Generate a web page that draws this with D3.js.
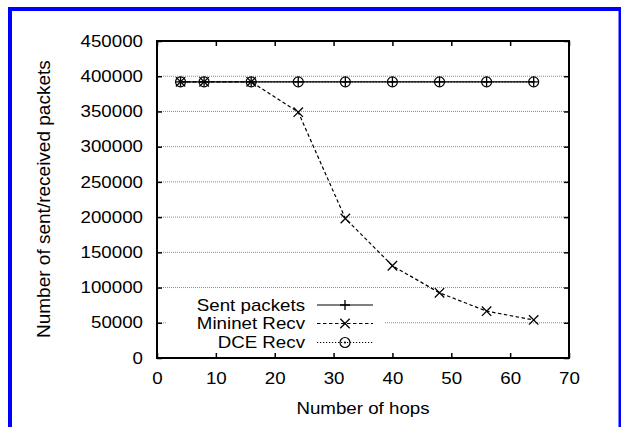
<!DOCTYPE html>
<html><head><meta charset="utf-8">
<script src="https://cdn.jsdelivr.net/npm/d3@7"></script>
<style>
body{margin:0;background:#fff}
svg{display:block}
text{font-family:"Liberation Sans",Arial,Helvetica,sans-serif;fill:#000}
</style>
</head><body>
<svg id="c" width="621" height="427"></svg>
<script>
// ---- data ----
const hops = [4, 8, 16, 24, 32, 40, 48, 56, 64];
const sentPackets = [392000, 392000, 392000, 392000, 392000, 392000, 392000, 392000, 392000];
const mininetRecv = [392000, 392000, 392000, 349000, 198000, 131000, 92500, 66500, 54000];
const dceRecv = [392000, 392000, 392000, 392000, 392000, 392000, 392000, 392000, 392000];
const seriesNames = ["Sent packets", "Mininet Recv", "DCE Recv"];
const xTicks = [0, 10, 20, 30, 40, 50, 60, 70];
const yTicks = [0, 50000, 100000, 150000, 200000, 250000, 300000, 350000, 400000, 450000];
const xTitle = "Number of hops";
const yTitle = "Number of sent/received packets";

// ---- layout ----
const L = 157, R = 569, T = 41, B = 358;
const SX = 1.17;     // horizontal stretch of text
const FS = 16;
const svg = d3.select("#c");

svg.append("rect").attr("x", 10).attr("y", 9).attr("width", 610.5).attr("height", 450)
  .attr("fill", "none").attr("stroke", "#0000ff").attr("stroke-width", 4);

const x = d3.scaleLinear().domain([0, 70]).range([L, R]);
const y = d3.scaleLinear().domain([0, 450000]).range([B, T]);

// grid
svg.append("g").selectAll("line").data(yTicks.filter(v => v > 0 && v < 450000)).join("line")
  .attr("x1", L).attr("x2", R).attr("y1", d => y(d)).attr("y2", d => y(d))
  .attr("stroke", "#8a8a8a").attr("stroke-width", 1).attr("stroke-dasharray", "1,1");

// axes
function styleAxis(g) {
  g.select(".domain").remove();
  g.selectAll(".tick line").attr("stroke", "#000").attr("stroke-width", 1.5);
  g.selectAll("text").attr("font-size", FS).attr("font-family", null);
}
const gx = svg.append("g").attr("transform", `translate(0,${B})`)
  .call(d3.axisBottom(x).tickValues(xTicks).tickSize(-5).tickPadding(15).tickFormat(d3.format("d")));
styleAxis(gx);
gx.selectAll("text").attr("transform", `scale(${SX},1)`);

const gy = svg.append("g").attr("transform", `translate(${L},0)`)
  .call(d3.axisLeft(y).tickValues(yTicks).tickSize(-5).tickPadding(14).tickFormat(d3.format("d")));
styleAxis(gy);
gy.selectAll("text").attr("x", -14 / SX).attr("transform", `scale(${SX},1)`);

const gt = svg.append("g").attr("transform", `translate(0,${T})`)
  .call(d3.axisTop(x).tickValues(xTicks).tickSize(-5).tickFormat(""));
styleAxis(gt);
const gr = svg.append("g").attr("transform", `translate(${R},0)`)
  .call(d3.axisRight(y).tickValues(yTicks).tickSize(-5).tickFormat(""));
styleAxis(gr);

// titles
svg.append("text").attr("transform", `translate(363,414) scale(${SX},1)`)
  .attr("text-anchor", "middle").attr("font-size", FS).text(xTitle);
svg.append("text").attr("transform", `translate(49.5,338) rotate(-90)`)
  .attr("text-anchor", "start").attr("font-size", 19).text(yTitle);

// legend background
const legendY = [305, 323.5, 342.5];
svg.append("rect").attr("x", 167).attr("y", 293).attr("width", 218).attr("height", 60).attr("fill", "#fff");

// series
const styles = [
  {vals: sentPackets, dash: null, marker: "plus"},
  {vals: mininetRecv, dash: "3.5,2.5", marker: "cross"},
  {vals: dceRecv, dash: "1.2,1.8", marker: "circle"}
];
function drawMarker(g, type, cx, cy) {
  if (type === "plus") {
    g.append("path").attr("d", `M${cx-5},${cy}H${cx+5}M${cx},${cy-5}V${cy+5}`)
      .attr("stroke", "#000").attr("stroke-width", 1.3).attr("fill", "none");
  } else if (type === "cross") {
    g.append("path").attr("d", `M${cx-4.7},${cy-4.7}L${cx+4.7},${cy+4.7}M${cx-4.7},${cy+4.7}L${cx+4.7},${cy-4.7}`)
      .attr("stroke", "#000").attr("stroke-width", 1.3).attr("fill", "none");
  } else {
    g.append("circle").attr("cx", cx).attr("cy", cy).attr("r", 5)
      .attr("stroke", "#000").attr("stroke-width", 1.2).attr("fill", "none");
    g.append("circle").attr("cx", cx).attr("cy", cy).attr("r", 1.1).attr("fill", "#000");
  }
}
const line = d3.line().x(d => x(d[0])).y(d => y(d[1]));
styles.forEach((s, i) => {
  const g = svg.append("g");
  const pts = hops.map((h, j) => [h, s.vals[j]]);
  g.append("path").attr("d", line(pts)).attr("fill", "none").attr("stroke", "#000")
    .attr("stroke-width", 1.2).attr("stroke-dasharray", s.dash);
  pts.forEach(p => drawMarker(g, s.marker, x(p[0]), y(p[1])));
  // legend entry
  const ly = legendY[i];
  svg.append("text").attr("transform", `translate(305,${ly}) scale(${SX},1)`)
    .attr("text-anchor", "end").attr("dy", "0.35em").attr("font-size", FS).text(seriesNames[i]);
  svg.append("line").attr("x1", 317).attr("x2", 373).attr("y1", ly).attr("y2", ly)
    .attr("stroke", "#000").attr("stroke-width", 1.2).attr("stroke-dasharray", s.dash);
  drawMarker(svg.append("g"), s.marker, 345, ly);
});

// frame
svg.append("rect").attr("x", L).attr("y", T).attr("width", R - L).attr("height", B - T)
  .attr("fill", "none").attr("stroke", "#000").attr("stroke-width", 2);
</script>
</body></html>
